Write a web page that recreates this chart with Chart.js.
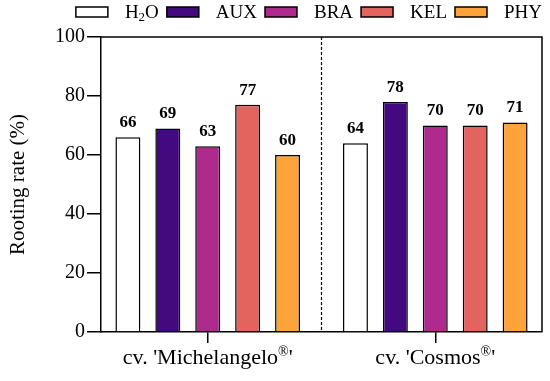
<!DOCTYPE html>
<html>
<head>
<meta charset="utf-8">
<script src="https://cdn.jsdelivr.net/npm/chart.js@4"></script>
<style>
  html, body { margin: 0; padding: 0; background: white; }
  #wrap { width: 550px; height: 381px; }
</style>
</head>
<body>
<div id="wrap"><canvas id="chart"></canvas></div>
<script>
const categories = ['Michelangelo', 'Cosmos'];
const seriesNames = ['H2O', 'AUX', 'BRA', 'KEL', 'PHY'];
const seriesColors = ['#ffffff', '#430a80', '#ae2b8d', '#e3635f', '#fca43a'];
const h2oValues = [66, 64];
const auxValues = [69, 78];
const braValues = [63, 70];
const kelValues = [77, 70];
const phyValues = [60, 71];
const yTicks = [0, 20, 40, 60, 80, 100];

const FONT = "'Liberation Serif', 'Times New Roman', serif";
const allValues = [h2oValues, auxValues, braValues, kelValues, phyValues];

// draw values, frame, divider, legend and x labels
const extras = {
    id: 'extras',
    afterDatasetsDraw(chart) {
        const ctx = chart.ctx;
        const area = chart.chartArea;
        const xs = chart.scales.x;

        ctx.save();
        ctx.fillStyle = '#000';
        ctx.font = 'bold 17px ' + FONT;
        ctx.textAlign = 'center';
        ctx.textBaseline = 'bottom';
        chart.data.datasets.forEach((ds, i) => {
            chart.getDatasetMeta(i).data.forEach((bar, j) => {
                ctx.fillText(ds.data[j].y, bar.x, bar.y - 6);
            });
        });

        // frame top and right
        ctx.strokeStyle = '#000';
        ctx.lineWidth = 1.5;
        ctx.beginPath();
        ctx.moveTo(area.left, area.top);
        ctx.lineTo(area.right, area.top);
        ctx.lineTo(area.right, area.bottom);
        ctx.stroke();

        // dashed divider between the cultivars
        const mid = xs.getPixelForValue(0.5);
        ctx.setLineDash([3, 2]);
        ctx.lineWidth = 1.2;
        ctx.beginPath();
        ctx.moveTo(mid, area.top);
        ctx.lineTo(mid, area.bottom);
        ctx.stroke();
        ctx.setLineDash([]);

        // x labels with superscript ®
        ctx.textAlign = 'left';
        ctx.textBaseline = 'alphabetic';
        categories.forEach((name, i) => {
            const main = "cv. '" + name;
            ctx.font = '22px ' + FONT;
            const w1 = ctx.measureText(main).width;
            const w3 = ctx.measureText("'").width;
            ctx.font = '14px ' + FONT;
            const w2 = ctx.measureText('®').width;
            const total = w1 + w2 + w3;
            const x = xs.getPixelForValue(i) - total / 2;
            const y = area.bottom + 32;
            ctx.font = '22px ' + FONT;
            ctx.fillText(main, x, y);
            ctx.font = '14px ' + FONT;
            ctx.fillText('®', x + w1, y - 8);
            ctx.font = '22px ' + FONT;
            ctx.fillText("'", x + w1 + w2, y);
        });

        // legend
        const boxW = 32, boxH = 10, gapText = 17, gapItem = 8;
        const widths = seriesNames.map(n => {
            if (n === 'H2O') {
                ctx.font = '19px ' + FONT;
                const a = ctx.measureText('HO').width;
                ctx.font = '13px ' + FONT;
                return a + ctx.measureText('2').width;
            }
            ctx.font = '19px ' + FONT;
            return ctx.measureText(n).width;
        });
        const totalW = widths.reduce((s, w) => s + w, 0) + seriesNames.length * (boxW + gapText) + (seriesNames.length - 1) * gapItem;
        let lx = area.right - totalW;
        const ly = 7;
        ctx.textBaseline = 'middle';
        seriesNames.forEach((n, i) => {
            ctx.fillStyle = seriesColors[i];
            ctx.fillRect(lx, ly, boxW, boxH);
            ctx.strokeStyle = '#000';
            ctx.lineWidth = 1.5;
            ctx.strokeRect(lx, ly, boxW, boxH);
            let tx = lx + boxW + gapText;
            ctx.fillStyle = '#000';
            if (n === 'H2O') {
                ctx.font = '19px ' + FONT;
                ctx.fillText('H', tx, ly + 6);
                tx += ctx.measureText('H').width;
                ctx.font = '13px ' + FONT;
                ctx.fillText('2', tx, ly + 11);
                tx += ctx.measureText('2').width;
                ctx.font = '19px ' + FONT;
                ctx.fillText('O', tx, ly + 6);
            } else {
                ctx.font = '19px ' + FONT;
                ctx.fillText(n, tx, ly + 6);
            }
            lx += boxW + gapText + widths[i] + gapItem;
        });
        ctx.restore();
    }
};

const ctx = document.getElementById('chart').getContext('2d');
new Chart(ctx, {
    type: 'bar',
    data: {
        datasets: seriesNames.map((name, i) => ({
            label: name,
            data: allValues[i].map((v, j) => ({ x: j, y: v })),
            backgroundColor: seriesColors[i],
            borderColor: '#000',
            borderWidth: 1.5,
            barPercentage: 0.625,
            categoryPercentage: 0.877
        }))
    },
    options: {
        responsive: true,
        maintainAspectRatio: false,
        animation: false,
        layout: { padding: { top: 37, right: 8, left: 0, bottom: 0 } },
        plugins: {
            legend: { display: false },
            tooltip: { enabled: false }
        },
        scales: {
            x: {
                type: 'linear',
                min: -0.469,
                max: 1.469,
                offset: false,
                afterBuildTicks: s => { s.ticks = categories.map((c, i) => ({ value: i })); },
                afterFit: s => { s.height = 49; },
                grid: {
                    offset: false,
                    drawOnChartArea: false,
                    drawTicks: true,
                    tickLength: 11,
                    color: '#000',
                    lineWidth: 1.5
                },
                border: { display: true, color: '#000', width: 1.5 },
                ticks: { display: false }
            },
            y: {
                min: 0,
                max: 100,
                afterBuildTicks: s => { s.ticks = yTicks.map(v => ({ value: v })); },
                afterFit: s => { s.width = 101; },
                grid: {
                    drawOnChartArea: false,
                    drawTicks: true,
                    tickLength: 14,
                    color: '#000',
                    lineWidth: 1.5
                },
                border: { display: true, color: '#000', width: 1.5 },
                ticks: {
                    color: '#000',
                    padding: 2,
                    font: { family: FONT, size: 20 }
                },
                title: {
                    display: true,
                    text: 'Rooting rate (%)',
                    color: '#000',
                    font: { family: FONT, size: 21 },
                    padding: { top: 6, bottom: 0 }
                }
            }
        }
    },
    plugins: [extras]
});
</script>
</body>
</html>
